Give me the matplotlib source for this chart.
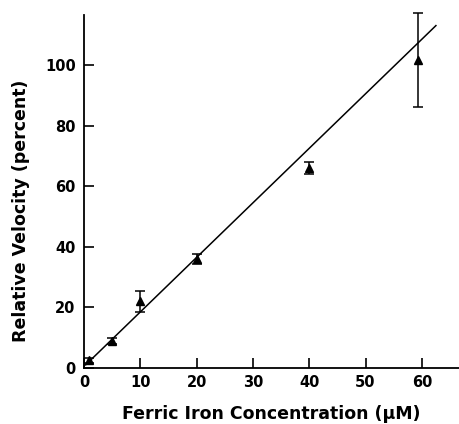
import matplotlib
matplotlib.use("Agg")
import matplotlib.pyplot as plt
import numpy as np

conc = [0.8, 5, 10, 20, 40, 59.3]
velocity = [2.5, 9, 22, 36, 66, 101.5]
err = [0.8, 1.0, 3.5, 1.7, 2.0, 15.5]
fit_x = [0.3, 62.5]
fit_slope = 1.8
fit_intercept = 0.5
xticks = [0, 10, 20, 30, 40, 50, 60]
yticks = [0, 20, 40, 60, 80, 100]

plt.rcParams['font.family'] = ['DejaVu Sans']
fig = plt.figure(figsize=(4.59, 4.24), dpi=100)
ax = fig.add_axes([84/459, 56/424, (459-84)/459, (368-15)/424])

fx = np.array(fit_x)
ax.plot(fx, fit_intercept + fit_slope*fx, color='black', lw=1.1)
cont = ax.errorbar(conc, velocity, yerr=err, fmt='^', color='black', ms=5.5,
                   capsize=3.5, elinewidth=1.1, capthick=1.1)
cont.lines[0].set_clip_on(False)
for art in list(cont.lines[1]) + list(cont.lines[2]):
    art.set_clip_on(False)

ax.set_xlim(0, 66.6)
ax.set_ylim(0, 116.5)
ax.set_xticks(xticks)
ax.set_yticks(yticks)
for s in ['top', 'right']:
    ax.spines[s].set_visible(False)
for s in ['left', 'bottom']:
    ax.spines[s].set_linewidth(1.3)
ax.tick_params(direction='in', length=7, width=1.2, labelsize=10.5)
ax.tick_params(axis='x', pad=5)
ax.tick_params(axis='y', pad=6)
for lab in ax.get_xticklabels() + ax.get_yticklabels():
    lab.set_fontweight('bold')
ax.set_xlabel('Ferric Iron Concentration (μM)', fontsize=12.5, fontweight='bold', labelpad=11)
ax.set_ylabel('Relative Velocity (percent)', fontsize=12.5, fontweight='bold', labelpad=12)
ax.yaxis.set_label_coords(-0.145, 0.445)

fig.savefig('out.png', dpi=100)
